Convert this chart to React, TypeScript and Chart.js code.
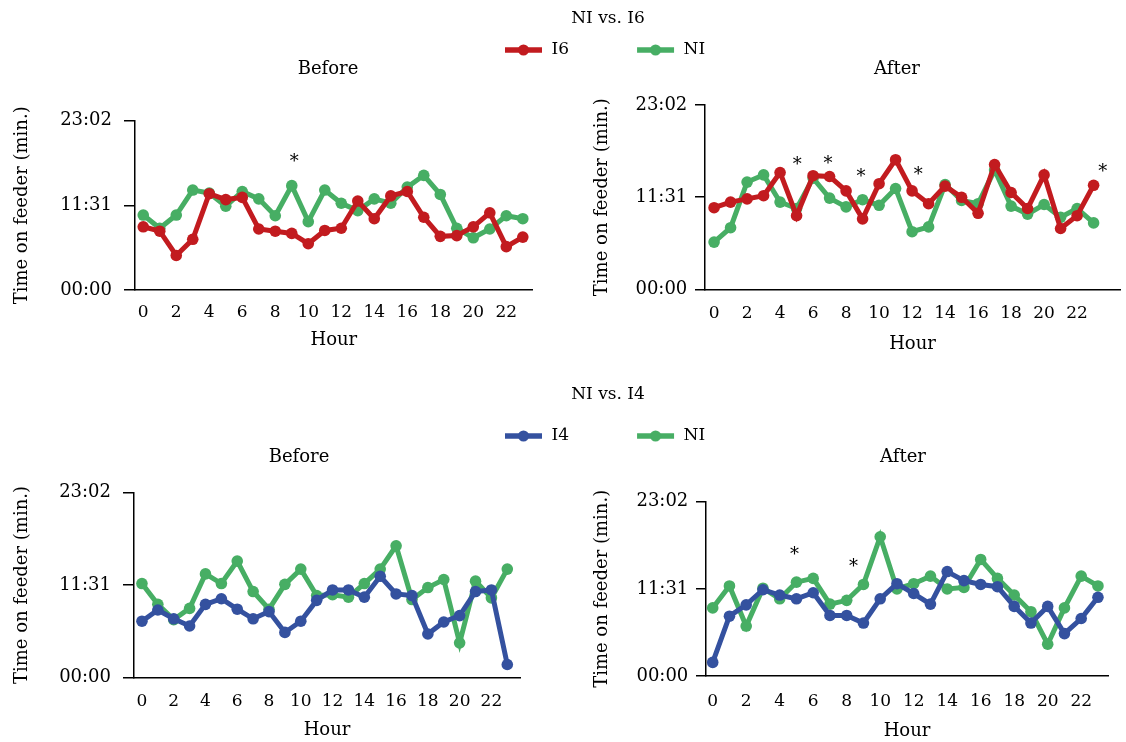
import React, { useEffect, useRef } from "react";
import { Chart, registerables } from "chart.js";

Chart.register(...registerables);

// ---------- data ----------
const hours = [0, 1, 2, 3, 4, 5, 6, 7, 8, 9, 10, 11, 12, 13, 14, 15, 16, 17, 18, 19, 20, 21, 22, 23];
const xTickHours = [0, 2, 4, 6, 8, 10, 12, 14, 16, 18, 20, 22];
const yTickSeconds = [0, 691, 1382];

// Time on feeder, minutes (decimal)
const i6Before = [8.6, 8.0, 4.7, 6.9, 13.1, 12.3, 12.6, 8.3, 8.0, 7.7, 6.3, 8.1, 8.4, 12.1, 9.7, 12.8, 13.4, 9.9, 7.3, 7.4, 8.6, 10.5, 5.9, 7.2];
const ni6Before = [10.2, 8.4, 10.2, 13.6, 13.2, 11.4, 13.4, 12.4, 10.1, 14.2, 9.3, 13.6, 11.8, 10.8, 12.4, 11.8, 14.0, 15.6, 13.0, 8.4, 7.1, 8.3, 10.1, 9.7];
const i6After = [10.2, 10.9, 11.3, 11.7, 14.6, 9.2, 14.2, 14.1, 12.3, 8.8, 13.2, 16.2, 12.3, 10.7, 12.9, 11.5, 9.5, 15.6, 12.1, 10.1, 14.3, 7.6, 9.2, 13.0];
const ni6After = [5.9, 7.7, 13.4, 14.3, 10.9, 10.1, 13.9, 11.4, 10.3, 11.2, 10.5, 12.6, 7.2, 7.8, 13.1, 11.1, 10.7, 14.9, 10.4, 9.4, 10.6, 9.0, 10.1, 8.3];
const i4Before = [7.0, 8.4, 7.3, 6.4, 9.1, 9.8, 8.5, 7.3, 8.2, 5.6, 7.0, 9.6, 10.9, 10.9, 10.0, 12.6, 10.4, 10.2, 5.4, 6.9, 7.7, 10.7, 10.9, 1.6];
const ni4Before = [11.7, 9.1, 7.2, 8.6, 12.9, 11.7, 14.5, 10.7, 8.5, 11.6, 13.5, 10.2, 10.3, 10.0, 11.7, 13.5, 16.4, 9.7, 11.2, 12.2, 4.3, 12.0, 9.9, 13.5];
const i4After = [1.8, 7.9, 9.4, 11.4, 10.7, 10.2, 11.0, 8.0, 8.0, 7.0, 10.2, 12.2, 10.9, 9.5, 13.8, 12.6, 12.1, 11.8, 9.2, 7.0, 9.2, 5.6, 7.6, 10.4];
const ni4After = [9.0, 11.9, 6.6, 11.6, 10.2, 12.4, 12.9, 9.5, 10.0, 12.1, 18.4, 11.5, 12.2, 13.2, 11.5, 11.7, 15.4, 12.9, 10.7, 8.5, 4.2, 9.0, 13.2, 11.9];

// significance markers (hour, minutes)
const starsI6BeforeHours = [9.15];
const starsI6BeforeValues = [18.1];
const starsI6AfterHours = [5.04, 6.9, 8.9, 12.37, 23.56];
const starsI6AfterValues = [16.2, 16.4, 14.7, 15.0, 15.3];
const starsI4BeforeHours: number[] = [];
const starsI4BeforeValues: number[] = [];
const starsI4AfterHours = [4.88, 8.41];
const starsI4AfterValues = [16.7, 15.1];

const groupTitles = ["NI vs. I6", "NI vs. I4"];
const panelTitles = ["Before", "After"];
const seriesNamesTop = ["I6", "NI"];
const seriesNamesBottom = ["I4", "NI"];

const RED = "#C21B1F";
const GREEN = "#47AE64";
const BLUE = "#34519F";
const FONT = "'DejaVu Serif', serif";

Chart.defaults.font.family = FONT;
Chart.defaults.color = "#000";

function fmt(v: number) {
  const total = Math.round(v * 60);
  const m = Math.floor(total / 60);
  const s = total % 60;
  return String(m).padStart(2, "0") + ":" + String(s).padStart(2, "0");
}

const asteriskPlugin = {
  id: "asterisks",
  afterDatasetsDraw(chart: any, _args: any, opts: any) {
    const hs: number[] = opts.hours || [];
    const vs: number[] = opts.values || [];
    const ctx = chart.ctx;
    const xs = chart.scales.x;
    const ys = chart.scales.y;
    ctx.save();
    ctx.fillStyle = "#000";
    ctx.font = `18px ${FONT}`;
    ctx.textAlign = "center";
    ctx.textBaseline = "alphabetic";
    for (let i = 0; i < hs.length; i++) {
      const px = xs.getPixelForValue(hs[i]);
      const py = ys.getPixelForValue(vs[i]);
      ctx.fillText("*", px, py + 10.5);
    }
    ctx.restore();
  },
};

type Series = { label: string; values: number[]; color: string };
type PanelSpec = {
  left: number; top: number; width: number; height: number;
  title: string; titleY: number;
  areaL: number; areaT: number; areaR: number; areaB: number;
  yTitleX: number; tickLen: number; yTickPad: number;
  xTickY: number; xTitleY: number; xMin: number; xMax: number;
  series: Series[]; starHours: number[]; starValues: number[];
};

function Panel({ spec }: { spec: PanelSpec }) {
  const ref = useRef<HTMLCanvasElement>(null);
  useEffect(() => {
    const s = spec;
    const titlePadTop = s.titleY - s.top - 10.8;
    const titlePadBottom = s.areaT - s.top - titlePadTop - 21.6;
    const yWidth = s.areaL - s.left;
    const yTitlePad = s.yTitleX - s.left - 10.8;
    const rightW = s.left + s.width - s.areaR;
    const xH = s.xTitleY - s.areaB + 10.8;
    const padBottom = s.top + s.height - s.areaB - xH;
    const xTickPad = s.xTickY - s.areaB - 10.2;
    const chart = new Chart(ref.current as HTMLCanvasElement, {
      type: "line",
      data: {
        datasets: s.series.map((se) => ({
          label: se.label,
          data: hours.map((h, i) => ({ x: h, y: se.values[i] })),
          borderColor: se.color,
          backgroundColor: se.color,
          pointBackgroundColor: se.color,
          pointBorderColor: se.color,
          pointBorderWidth: 0,
          pointRadius: 5.8,
          borderWidth: 5,
          tension: 0,
          xAxisID: "x",
          yAxisID: "y",
        })),
      },
      options: {
        responsive: false,
        animation: false,
        devicePixelRatio: 1,
        layout: { padding: { left: 0, right: 0, top: 0, bottom: padBottom } },
        plugins: {
          legend: { display: false },
          tooltip: { enabled: false },
          title: {
            display: true,
            text: s.title,
            color: "#000",
            font: { family: FONT, size: 18, weight: "normal" },
            padding: { top: titlePadTop, bottom: titlePadBottom },
          },
          asterisks: { hours: s.starHours, values: s.starValues },
        } as any,
        scales: {
          x: {
            type: "linear",
            position: "bottom",
            min: s.xMin,
            max: s.xMax,
            grid: { display: false, drawTicks: false },
            border: { display: true, color: "#000", width: 1.5 },
            ticks: {
              autoSkip: false,
              maxRotation: 0,
              padding: xTickPad,
              color: "#000",
              font: { family: FONT, size: 17 },
              callback: (v: any) => String(v),
            },
            afterBuildTicks: (ax: any) => {
              ax.ticks = xTickHours.map((v) => ({ value: v }));
            },
            afterFit: (ax: any) => {
              ax.height = xH;
            },
            title: {
              display: true,
              text: "Hour",
              color: "#000",
              font: { family: FONT, size: 18 },
              padding: { top: 0, bottom: 0 },
            },
          },
          y: {
            type: "linear",
            position: "left",
            min: yTickSeconds[0] / 60,
            max: yTickSeconds[yTickSeconds.length - 1] / 60,
            grid: {
              display: true,
              drawOnChartArea: false,
              drawTicks: true,
              tickLength: s.tickLen,
              color: "#000",
              lineWidth: 1.5,
            },
            border: { display: true, color: "#000", width: 1.5 },
            ticks: {
              padding: s.yTickPad,
              color: "#000",
              font: { family: FONT, size: 18 },
              callback: (v: any) => fmt(Number(v)),
            },
            afterBuildTicks: (ax: any) => {
              ax.ticks = yTickSeconds.map((v) => ({ value: v / 60 }));
            },
            afterFit: (ax: any) => {
              ax.width = yWidth;
            },
            title: {
              display: true,
              text: "Time on feeder (min.)",
              color: "#000",
              font: { family: FONT, size: 18 },
              padding: { top: yTitlePad, bottom: 0 },
            },
          },
          spacer: {
            type: "linear",
            position: "right",
            display: true,
            grid: { display: false, drawTicks: false },
            border: { display: false },
            ticks: { display: false },
            afterFit: (ax: any) => {
              ax.width = rightW;
            },
          },
        } as any,
      },
      plugins: [asteriskPlugin as any],
    });
    return () => chart.destroy();
  }, [spec]);
  return (
    <canvas
      ref={ref}
      width={spec.width}
      height={spec.height}
      style={{ position: "absolute", left: spec.left, top: spec.top, width: spec.width, height: spec.height }}
    />
  );
}

type HeaderSpec = {
  left: number; top: number; width: number; height: number;
  title: string; titleY: number; legendY: number;
  names: string[]; colors: string[];
};

function makeMarker(color: string) {
  const c = document.createElement("canvas");
  c.width = 106;
  c.height = 16;
  const ctx = c.getContext("2d") as CanvasRenderingContext2D;
  ctx.strokeStyle = color;
  ctx.lineWidth = 5.5;
  ctx.beginPath();
  ctx.moveTo(68, 8);
  ctx.lineTo(105, 8);
  ctx.stroke();
  ctx.fillStyle = color;
  ctx.beginPath();
  ctx.arc(86.5, 8, 5.5, 0, Math.PI * 2);
  ctx.fill();
  return c;
}

function Header({ spec }: { spec: HeaderSpec }) {
  const ref = useRef<HTMLCanvasElement>(null);
  useEffect(() => {
    const s = spec;
    const padTop = s.titleY - s.top - 10.2;
    const padBottom = s.legendY - 8.5 - s.top - padTop - 20.4;
    const items = s.names.map((n, i) => ({
      text: n,
      fillStyle: s.colors[i],
      strokeStyle: s.colors[i],
      lineWidth: 0,
      hidden: false,
      fontColor: "#000",
      pointStyle: makeMarker(s.colors[i]),
      datasetIndex: i,
    }));
    const chart = new Chart(ref.current as HTMLCanvasElement, {
      type: "line",
      data: { datasets: [] },
      options: {
        responsive: false,
        animation: false,
        devicePixelRatio: 1,
        layout: { padding: 0 },
        scales: { x: { display: false }, y: { display: false } },
        plugins: {
          tooltip: { enabled: false },
          title: {
            display: true,
            text: s.title,
            color: "#000",
            font: { family: FONT, size: 17, weight: "normal" },
            padding: { top: padTop, bottom: padBottom },
          },
          legend: {
            display: true,
            position: "top",
            align: "start",
            labels: {
              usePointStyle: true,
              pointStyleWidth: 106,
              padding: 0,
              color: "#000",
              font: { family: FONT, size: 17 },
              generateLabels: () => items as any,
            },
          },
        },
      } as any,
    });
    return () => chart.destroy();
  }, [spec]);
  return (
    <canvas
      ref={ref}
      width={spec.width}
      height={spec.height}
      style={{ position: "absolute", left: spec.left, top: spec.top, width: spec.width, height: spec.height }}
    />
  );
}

const headers: HeaderSpec[] = [
  { left: 437, top: 0, width: 342, height: 80, title: groupTitles[0], titleY: 19, legendY: 50, names: seriesNamesTop, colors: [RED, GREEN] },
  { left: 437, top: 370, width: 342, height: 80, title: groupTitles[1], titleY: 395, legendY: 436, names: seriesNamesBottom, colors: [BLUE, GREEN] },
];

const panels: PanelSpec[] = [
  {
    left: 0, top: 45, width: 656, height: 310, title: panelTitles[0], titleY: 69,
    areaL: 135, areaT: 120.7, areaR: 532.7, areaB: 290,
    yTitleX: 22.5, tickLen: 11, yTickPad: 12, xTickY: 313, xTitleY: 340.7, xMin: -0.5, xMax: 23.6,
    series: [{ label: "I6", values: i6Before, color: RED }, { label: "NI", values: ni6Before, color: GREEN }],
    starHours: starsI6BeforeHours, starValues: starsI6BeforeValues,
  },
  {
    left: 580, top: 45, width: 634, height: 310, title: panelTitles[1], titleY: 69,
    areaL: 705, areaT: 105, areaR: 1120, areaB: 289.3,
    yTitleX: 602, tickLen: 10, yTickPad: 7.7, xTickY: 313.3, xTitleY: 344, xMin: -0.55, xMax: 24.6,
    series: [{ label: "I6", values: i6After, color: RED }, { label: "NI", values: ni6After, color: GREEN }],
    starHours: starsI6AfterHours, starValues: starsI6AfterValues,
  },
  {
    left: 0, top: 430, width: 598, height: 312, title: panelTitles[0], titleY: 457,
    areaL: 134, areaT: 492.7, areaR: 520, areaB: 677.3,
    yTitleX: 22.5, tickLen: 11, yTickPad: 12, xTickY: 701.7, xTitleY: 730.7, xMin: -0.5, xMax: 23.8,
    series: [{ label: "I4", values: i4Before, color: BLUE }, { label: "NI", values: ni4Before, color: GREEN }],
    starHours: starsI4BeforeHours, starValues: starsI4BeforeValues,
  },
  {
    left: 580, top: 430, width: 646, height: 313, title: panelTitles[1], titleY: 457,
    areaL: 706, areaT: 501.7, areaR: 1108, areaB: 676,
    yTitleX: 602, tickLen: 10, yTickPad: 7.7, xTickY: 701.7, xTitleY: 731.7, xMin: -0.4, xMax: 23.6,
    series: [{ label: "I4", values: i4After, color: BLUE }, { label: "NI", values: ni4After, color: GREEN }],
    starHours: starsI4AfterHours, starValues: starsI4AfterValues,
  },
];

export default function App() {
  return (
    <div
      style={{
        position: "absolute",
        left: 0,
        top: 0,
        width: 1126,
        height: 742,
        overflow: "hidden",
        background: "#fff",
      }}
    >
      {panels.map((p, i) => (
        <Panel key={"p" + i} spec={p} />
      ))}
      {headers.map((h, i) => (
        <Header key={"h" + i} spec={h} />
      ))}
    </div>
  );
}
